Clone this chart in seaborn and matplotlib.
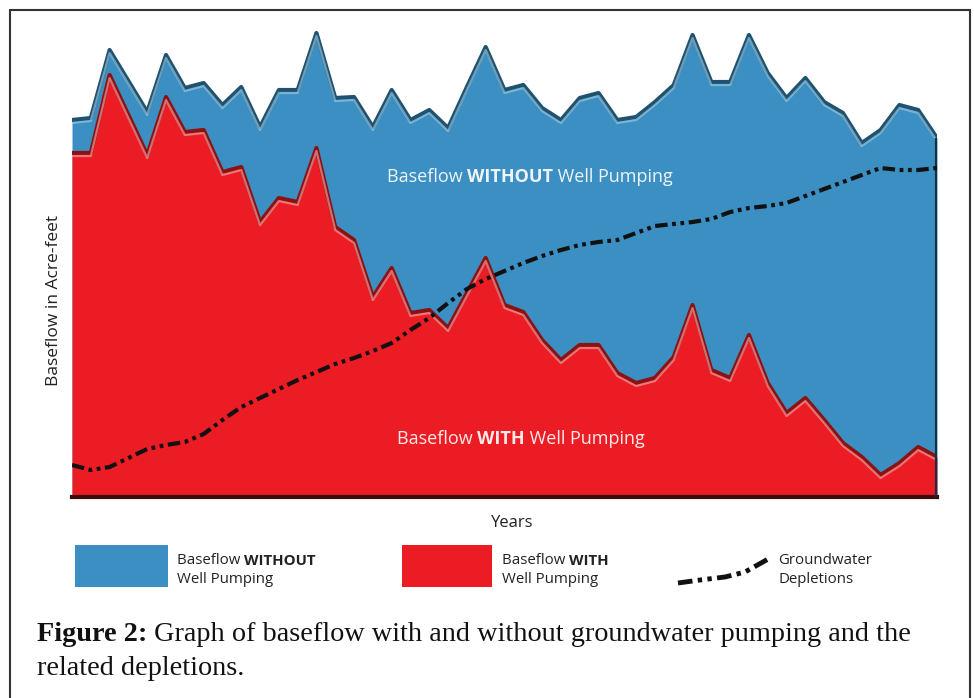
import numpy as np
import pandas as pd
import matplotlib
matplotlib.use("Agg")
import matplotlib.pyplot as plt
import matplotlib.transforms as mtransforms
from matplotlib.patches import Rectangle
from matplotlib.lines import Line2D
from matplotlib.text import Annotation
import seaborn as sns

# values (arbitrary acre-feet units, one point per year)
years = list(range(47))
without_pumping = [377, 379, 447, 416, 385, 442, 409, 414, 392, 410, 370, 407, 407, 464, 399, 400,
                   370, 407, 377, 387, 369, 410, 450, 407, 412, 389, 377, 399, 404, 377, 380, 395,
                   412, 462, 415, 415, 462, 424, 399, 419, 395, 384, 354, 367, 392, 387, 359]
with_pumping = [344, 344, 422, 382, 342, 400, 365, 367, 325, 330, 275, 299, 295, 349, 270, 257,
                200, 229, 184, 187, 169, 204, 239, 192, 185, 157, 137, 152, 152, 124, 114, 119,
                140, 192, 127, 119, 162, 114, 84, 99, 77, 54, 40, 22, 34, 50, 40]
depletions = [32, 27, 30, 39, 48, 52, 55, 63, 77, 90, 99, 108, 117, 125, 133, 139,
              146, 154, 167, 179, 194, 208, 218, 226, 234, 241, 247, 252, 255, 257, 264, 271,
              273, 275, 278, 285, 289, 291, 294, 301, 308, 315, 322, 329, 327, 327, 329]

df = pd.DataFrame({'Year': years, 'Without': without_pumping,
                   'With': with_pumping, 'Depletion': depletions})

BLUE = '#3b8fc2'
RED = '#ec1c24'
DASHDOT = (0, (3, 1.1, 0.9, 1.1, 0.9, 1.1))

sns.set_theme(style='white')
plt.rcParams['font.family'] = ['Open Sans', 'DejaVu Sans']

W, H = 974, 698
fig = plt.figure(figsize=(W / 100, H / 100), dpi=100)

def fx(px):
    return px / W

def fy(py):
    return 1 - py / H

# outer frame of the figure box
fig.patches.append(Rectangle((fx(10), -0.01), fx(960), fy(10) + 0.01, transform=fig.transFigure,
                             fill=False, edgecolor='#333333', lw=1.5))

ax = fig.add_axes([fx(72), fy(497), fx(865), (497 - 25) / H])
ax.set_xlim(0, 46)
ax.set_ylim(0, 472)

# areas
ax.fill_between(df['Year'], 0, df['Without'], color=BLUE, lw=0, zorder=1)
ax.fill_between(df['Year'], 0, df['With'], color=RED, lw=0, zorder=2)

# embossed edges: dark outline with a softer highlight just inside
down = mtransforms.offset_copy(ax.transData, fig=fig, x=0, y=-3, units='dots')
sns.lineplot(data=df, x='Year', y='Without', ax=ax, color='#1f5270', lw=3.0, zorder=3)
ax.plot(df['Year'], df['Without'], color='#a7d0e4', lw=1.6, alpha=0.6, transform=down, zorder=3)
sns.lineplot(data=df, x='Year', y='With', ax=ax, color='#8c1212', lw=3.0, zorder=4)
ax.plot(df['Year'], df['With'], color='#f7b0b2', lw=1.6, alpha=0.6, transform=down, zorder=4)
ax.vlines(df['Year'].iloc[-1], 0, df['Without'].iloc[-1], color='#16303f', lw=3, zorder=5)

# groundwater depletions
sns.lineplot(data=df, x='Year', y='Depletion', ax=ax, color='#111111', lw=3, zorder=6)
ax.lines[-1].set_linestyle(DASHDOT)

for side in ['top', 'left', 'right']:
    ax.spines[side].set_visible(False)
ax.spines['bottom'].set_color('#3a0c0c')
ax.spines['bottom'].set_linewidth(3)
ax.set_xticks([])
ax.set_yticks([])
ax.set_xlabel('')
ax.set_ylabel('')


def mixed(x, y, parts, size, color, family=None):
    prev = None
    for txt, weight in parts:
        kw = dict(fontsize=size, color=color, weight=weight, ha='left', va='bottom')
        if family is not None:
            kw['family'] = family
        if prev is None:
            prev = fig.text(x, y, txt, transform=fig.transFigure, **kw)
        else:
            prev = fig.add_artist(Annotation(txt, xy=(1, 0), xycoords=prev, **kw))
    return prev


mixed(fx(387), fy(186), [('Baseflow ', 'normal'), ('WITHOUT', 'bold'), (' Well Pumping', 'normal')],
      13, '#eef5fa')
mixed(fx(397), fy(448), [('Baseflow ', 'normal'), ('WITH', 'bold'), (' Well Pumping', 'normal')],
      13, '#fbeaea')

fig.text(fx(54), fy(300), 'Baseflow in Acre-feet', rotation=90, ha='center', va='center',
         fontsize=12.5, color='#222222')
fig.text(fx(512), fy(523), 'Years', ha='center', va='center', fontsize=12, color='#222222')

# legend row
fig.patches.append(Rectangle((fx(75), fy(587)), fx(93), 42 / H, transform=fig.transFigure,
                             facecolor=BLUE, edgecolor='none'))
fig.patches.append(Rectangle((fx(402), fy(587)), fx(90), 42 / H, transform=fig.transFigure,
                             facecolor=RED, edgecolor='none'))
mixed(fx(177), fy(568), [('Baseflow ', 'normal'), ('WITHOUT', 'bold')], 10.8, '#222222')
fig.text(fx(177), fy(587), 'Well Pumping', fontsize=10.8, color='#222222', ha='left', va='bottom')
mixed(fx(502), fy(568), [('Baseflow ', 'normal'), ('WITH', 'bold')], 10.8, '#222222')
fig.text(fx(502), fy(587), 'Well Pumping', fontsize=10.8, color='#222222', ha='left', va='bottom')
leg_line = Line2D([fx(678), fx(700), fx(725), fx(745), fx(770)],
                  [fy(583), fy(580), fy(577), fy(572), fy(558)],
                  transform=fig.transFigure, color='#111111', lw=3.5, linestyle=DASHDOT)
fig.lines.append(leg_line)
fig.text(fx(778), fy(568), 'Groundwater', fontsize=10.8, color='#222222', ha='left', va='bottom')
fig.text(fx(778), fy(587), 'Depletions', fontsize=10.8, color='#222222', ha='left', va='bottom')

# caption
cap = ['Liberation Serif', 'DejaVu Serif']
mixed(fx(37), fy(647), [('Figure 2:', 'bold'),
                        (' Graph of baseflow with and without groundwater pumping and the', 'normal')],
      20.3, '#111111', family=cap)
fig.text(fx(37), fy(681), 'related depletions.', fontsize=20.3, color='#111111',
         ha='left', va='bottom', family=cap)

fig.savefig('out.png', dpi=100)
